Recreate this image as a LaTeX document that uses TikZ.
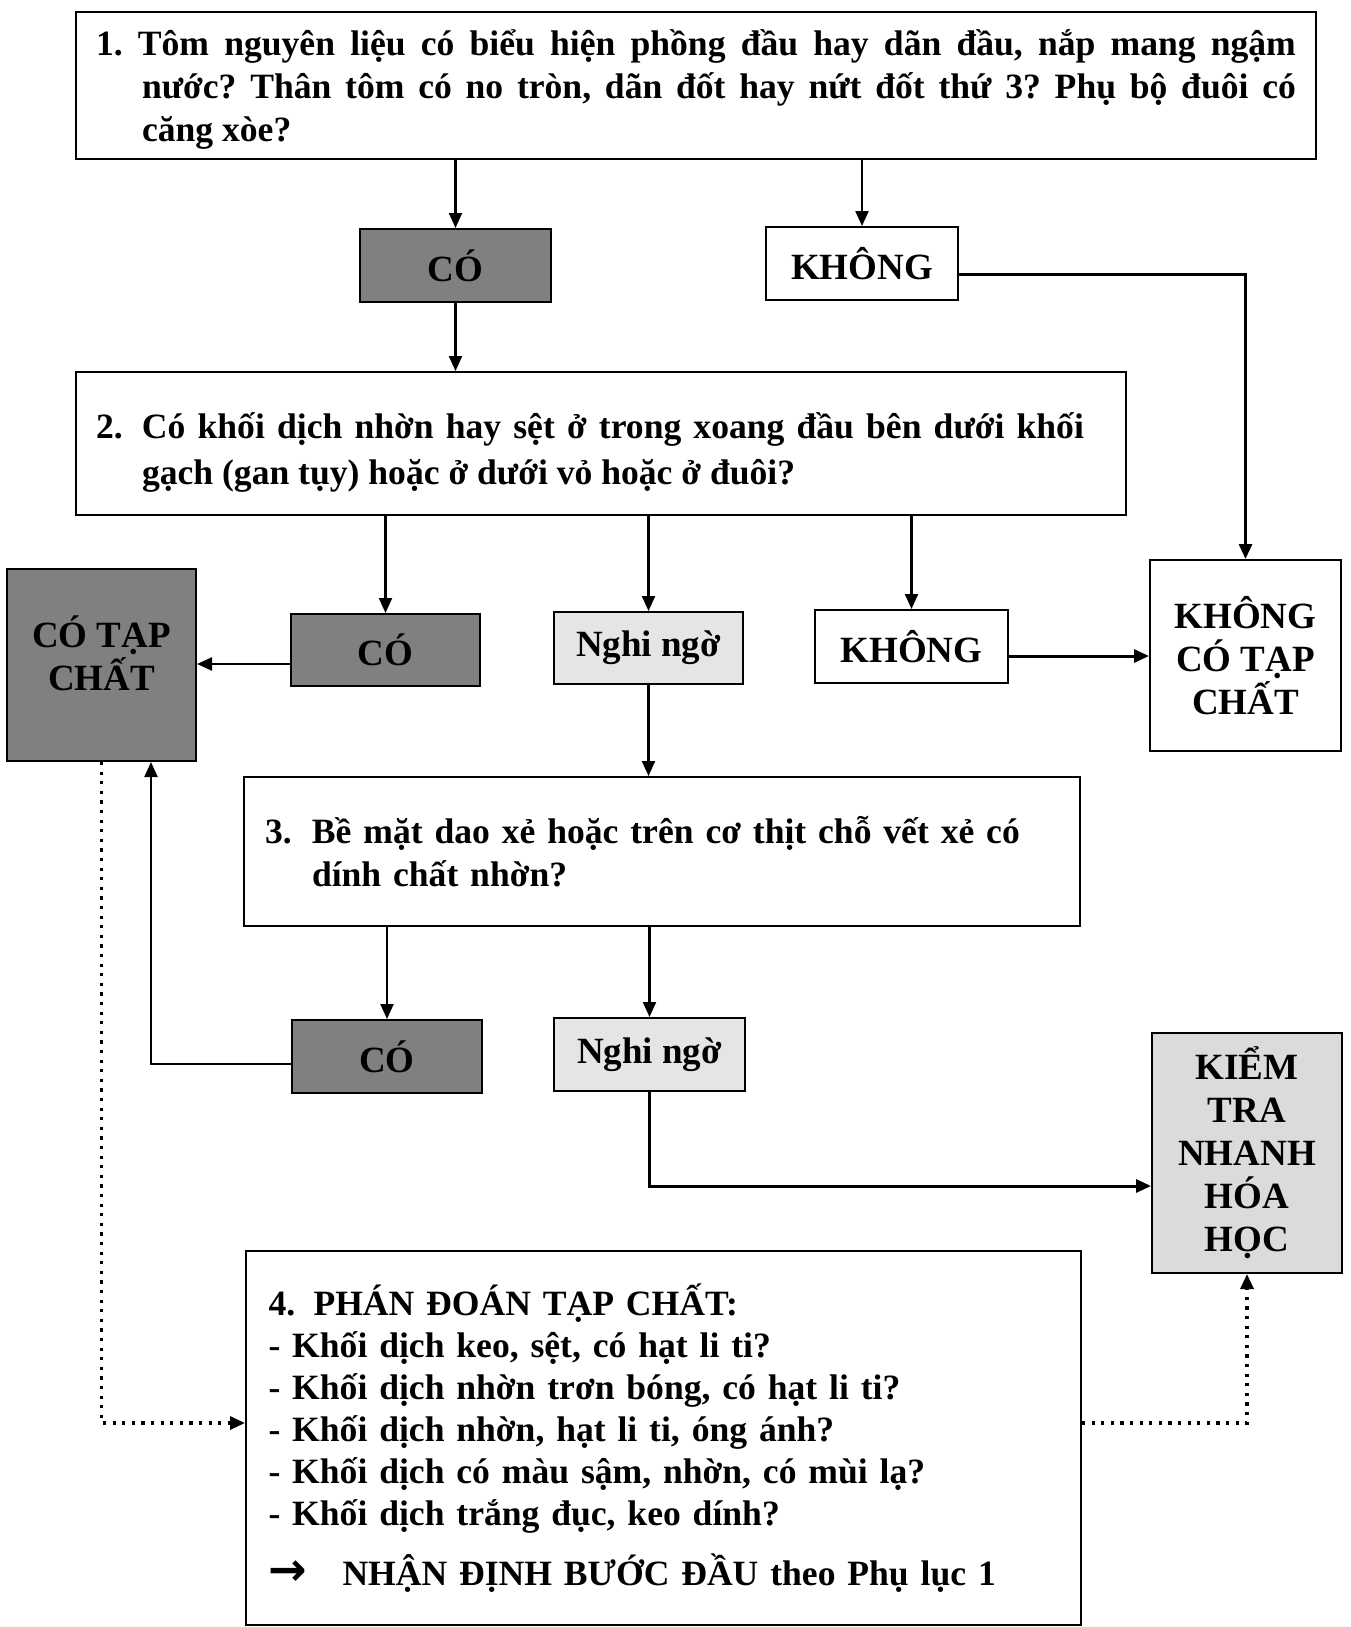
\documentclass[tikz,border=0pt]{standalone}
\usepackage{fontspec}
\setmainfont{Liberation Serif}
\newfontfamily\arrowfont{DejaVu Sans}
\usetikzlibrary{arrows.meta,calc}
\definecolor{darkfill}{gray}{0.5}
\definecolor{lightfill}{gray}{0.9}
\definecolor{midlight}{gray}{0.86}
\frenchspacing
\begin{document}
\frenchspacing
\begin{tikzpicture}[x=0.5pt,y=-0.5pt,
 box/.style={draw=black, line width=1pt, inner sep=0pt, font=\fontsize{18.5}{21.5}\selectfont\bfseries},
 textbox/.style={box, fill=white, font=\fontsize{17.8}{21.5}\selectfont\bfseries\frenchspacing},
 darkbox/.style={box, fill=darkfill, align=center},
 lightbox/.style={box, fill=lightfill, align=center},
 plainbox/.style={box, fill=white, align=center},
 conn/.style={line width=1.1pt, -{Triangle[length=7.5pt,width=6.5pt]}},
 thickconn/.style={conn, line width=1.5pt},
 dotconn/.style={line width=1.6pt, dash pattern=on 1.6pt off 3.2pt, -{Triangle[length=7.5pt,width=6.5pt]}},
]
\useasboundingbox (0,0) rectangle (1350,1627);
\fill[white] (0,0) rectangle (1350,1627);

\node[textbox, minimum width=620pt, minimum height=73.5pt] (b1) at (696,85.5)
 {\raisebox{-2pt}[\height][\depth]{\parbox{600pt}{\hangindent=23pt\hangafter=1 1. Tôm nguyên liệu có biểu hiện phồng đầu hay dãn đầu, nắp mang ngậm\linebreak nước? Thân tôm có no tròn, dãn đốt hay nứt đốt thứ 3? Phụ bộ đuôi có\linebreak căng xòe?}}};

\node[darkbox, minimum width=95.5pt, minimum height=36.5pt] (co1) at (455.5,265.5) {CÓ};
\node[plainbox, minimum width=96pt, minimum height=36.5pt] (kh1) at (862,263.5) {KHÔNG};

\node[textbox, minimum width=525pt, minimum height=71.5pt, font=\fontsize{17.8}{23}\selectfont\bfseries\frenchspacing] (b2) at (601,443.5)
 {\raisebox{-4.5pt}[\height][\depth]{\parbox{494pt}{\hangindent=23pt\hangafter=1 \makebox[23pt][l]{2.}Có khối dịch nhờn hay sệt ở trong xoang đầu bên dưới khối\linebreak gạch (gan tụy) hoặc ở dưới vỏ hoặc ở đuôi?}\hspace*{11pt}}};

\node[darkbox, minimum width=94.5pt, minimum height=96pt] (cotc) at (101.5,665) {CÓ TẠP\\CHẤT\\[-9.5pt]\mbox{}};
\node[darkbox, minimum width=94.5pt, minimum height=36pt] (co2) at (385.5,650) {CÓ};
\node[lightbox, minimum width=94.5pt, minimum height=36pt] (ng2) at (648.5,648) {Nghi ngờ};
\node[plainbox, minimum width=96.5pt, minimum height=36.5pt] (kh2) at (911.5,646.5) {KHÔNG};
\node[plainbox, minimum width=95.5pt, minimum height=95.5pt] (kctc) at (1245.5,655.5) {KHÔNG\\CÓ TẠP\\CHẤT};

\node[textbox, minimum width=418pt, minimum height=74.5pt, text width=397pt, align=left] (b3) at (662,851.5)
 {\makebox[23.5pt][l]{3.}Bề mặt dao xẻ hoặc trên cơ thịt chỗ vết xẻ có\\\hspace*{23.5pt}dính chất nhờn?};

\node[darkbox, minimum width=95pt, minimum height=36.5pt] (co3) at (387,1056.5) {CÓ};
\node[lightbox, minimum width=95.5pt, minimum height=36.5pt] (ng3) at (649.5,1054.5) {Nghi ngờ};
\node[lightbox, fill=midlight, minimum width=95pt, minimum height=120pt] (kt) at (1247,1153) {KIỂM\\TRA\\NHANH\\HÓA\\HỌC};

\node[textbox, minimum width=417.5pt, minimum height=187pt, text width=395pt, align=left, font=\fontsize{17.8}{21}\selectfont\bfseries] (b4) at (663.5,1438)
 {\makebox[22.5pt][l]{4.}PHÁN ĐOÁN TẠP CHẤT:\\- Khối dịch keo, sệt, có hạt li ti?\\- Khối dịch nhờn trơn bóng, có hạt li ti?\\- Khối dịch nhờn, hạt li ti, óng ánh?\\- Khối dịch có màu sậm, nhờn, có mùi lạ?\\- Khối dịch trắng đục, keo dính?\\[9pt]\makebox[37pt][l]{\arrowfont\bfseries\fontsize{23}{21}\selectfont →}NHẬN ĐỊNH BƯỚC ĐẦU theo Phụ lục 1};

\coordinate (up) at ([xshift=24.75pt]cotc.south);

\draw[conn] (b1.south -| co1) -- (co1.north);
\draw[conn] (b1.south -| kh1) -- (kh1.north);
\draw[conn] (co1.south) -- (co1.south |- b2.north);
\draw[thickconn] ([yshift=-5.25pt]kh1.east) -| (kctc.north);
\draw[conn] (b2.south -| co2) -- (co2.north);
\draw[conn] (b2.south -| ng2) -- (ng2.north);
\draw[conn] (b2.south -| kh2) -- (kh2.north);
\draw[conn] ([yshift=-7pt]co2.west) -- ([yshift=-7pt]co2.west -| cotc.east);
\draw[thickconn] ([yshift=-4.75pt]kh2.east) -- ([yshift=-4.75pt]kh2.east -| kctc.west);
\draw[conn] (ng2.south) -- (ng2.south |- b3.north);
\draw[conn] (b3.south -| co3) -- (co3.north);
\draw[conn] (b3.south -| ng3) -- (ng3.north);
\draw[conn] ([yshift=-3.75pt]co3.west) -| (up);
\draw[thickconn] (ng3.south) |- ([yshift=-16.5pt]kt.west);
\draw[dotconn] (cotc.south) |- ([yshift=7.5pt]b4.west);
\draw[dotconn] ([yshift=7.5pt]b4.east) -| (kt.south);
\end{tikzpicture}
\end{document}
